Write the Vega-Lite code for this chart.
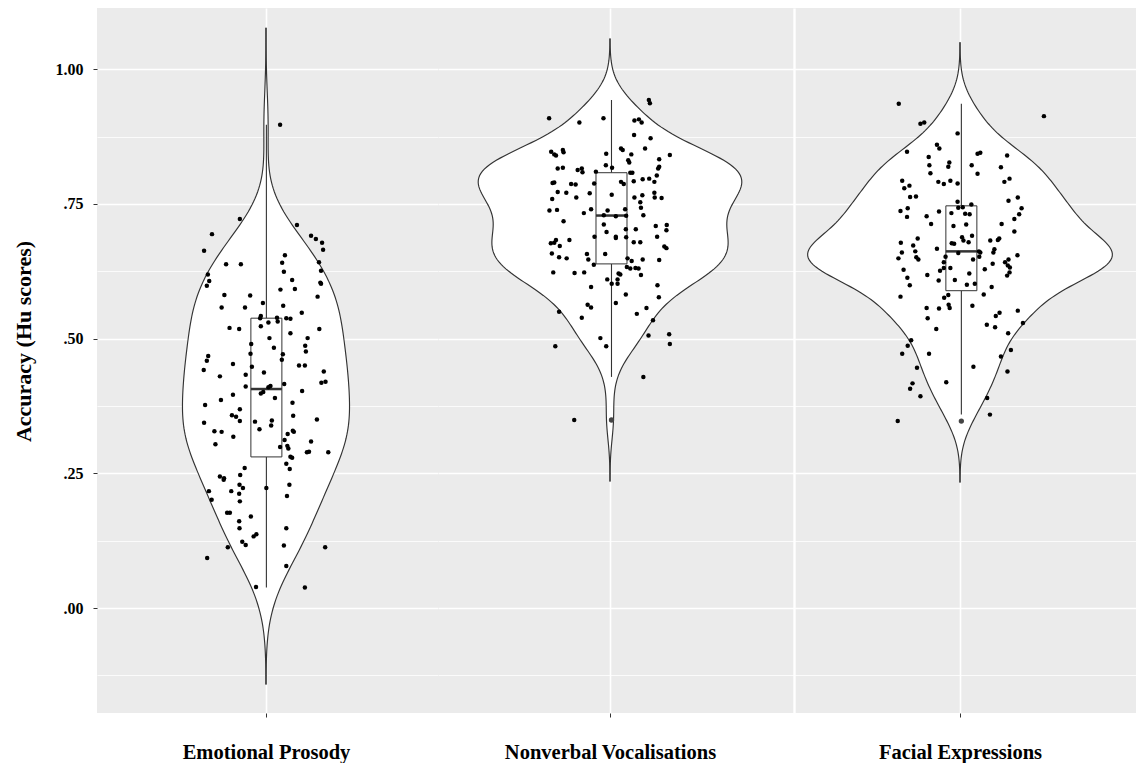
{
"$schema": "https://vega.github.io/schema/vega-lite/v6.json",
"padding": {"left": 12, "top": 8, "right": 0, "bottom": 0},
"background": "white",
"config": {"view": {"fill": "#EBEBEB", "stroke": null}, "font": "Liberation Serif", "axis": {"domain": false}},
"datasets": {
"emo": [
{"cat":"Emotional Prosody","value":0.607,"jitter":-0.165},{"cat":"Emotional Prosody","value":0.598,"jitter":-0.172},{"cat":"Emotional Prosody","value":0.581,"jitter":-0.121},{"cat":"Emotional Prosody","value":0.580,"jitter":-0.046},{"cat":"Emotional Prosody","value":0.591,"jitter":0.042},{"cat":"Emotional Prosody","value":0.592,"jitter":0.084},{"cat":"Emotional Prosody","value":0.604,"jitter":0.158},{"cat":"Emotional Prosody","value":0.602,"jitter":0.160},{"cat":"Emotional Prosody","value":0.578,"jitter":0.150},{"cat":"Emotional Prosody","value":0.558,"jitter":-0.129},
{"cat":"Emotional Prosody","value":0.558,"jitter":-0.061},{"cat":"Emotional Prosody","value":0.566,"jitter":-0.009},{"cat":"Emotional Prosody","value":0.561,"jitter":0.050},{"cat":"Emotional Prosody","value":0.548,"jitter":0.104},{"cat":"Emotional Prosody","value":0.542,"jitter":-0.015},{"cat":"Emotional Prosody","value":0.538,"jitter":-0.017},{"cat":"Emotional Prosody","value":0.539,"jitter":0.032},{"cat":"Emotional Prosody","value":0.532,"jitter":0.034},{"cat":"Emotional Prosody","value":0.530,"jitter":0.007},{"cat":"Emotional Prosody","value":0.538,"jitter":0.059},
{"cat":"Emotional Prosody","value":0.537,"jitter":0.071},{"cat":"Emotional Prosody","value":0.523,"jitter":-0.015},{"cat":"Emotional Prosody","value":0.520,"jitter":-0.106},{"cat":"Emotional Prosody","value":0.518,"jitter":-0.078},{"cat":"Emotional Prosody","value":0.518,"jitter":0.155},{"cat":"Emotional Prosody","value":0.510,"jitter":0.071},{"cat":"Emotional Prosody","value":0.501,"jitter":0.010},{"cat":"Emotional Prosody","value":0.501,"jitter":0.121},{"cat":"Emotional Prosody","value":0.487,"jitter":0.114},{"cat":"Emotional Prosody","value":0.476,"jitter":0.116},
{"cat":"Emotional Prosody","value":0.490,"jitter":-0.043},{"cat":"Emotional Prosody","value":0.483,"jitter":0.023},{"cat":"Emotional Prosody","value":0.472,"jitter":-0.045},{"cat":"Emotional Prosody","value":0.471,"jitter":0.049},{"cat":"Emotional Prosody","value":0.461,"jitter":0.046},{"cat":"Emotional Prosody","value":0.468,"jitter":-0.168},{"cat":"Emotional Prosody","value":0.459,"jitter":-0.172},{"cat":"Emotional Prosody","value":0.442,"jitter":-0.181},{"cat":"Emotional Prosody","value":0.453,"jitter":-0.096},{"cat":"Emotional Prosody","value":0.448,"jitter":-0.041},
{"cat":"Emotional Prosody","value":0.450,"jitter":0.096},{"cat":"Emotional Prosody","value":0.450,"jitter":0.113},{"cat":"Emotional Prosody","value":0.439,"jitter":0.168},{"cat":"Emotional Prosody","value":0.437,"jitter":-0.006},{"cat":"Emotional Prosody","value":0.433,"jitter":-0.059},{"cat":"Emotional Prosody","value":0.430,"jitter":-0.134},{"cat":"Emotional Prosody","value":0.418,"jitter":0.161},{"cat":"Emotional Prosody","value":0.420,"jitter":0.173},{"cat":"Emotional Prosody","value":0.411,"jitter":-0.059},{"cat":"Emotional Prosody","value":0.416,"jitter":0.053},
{"cat":"Emotional Prosody","value":0.412,"jitter":0.013},{"cat":"Emotional Prosody","value":0.410,"jitter":0.007},{"cat":"Emotional Prosody","value":0.401,"jitter":-0.008},{"cat":"Emotional Prosody","value":0.398,"jitter":-0.015},{"cat":"Emotional Prosody","value":0.403,"jitter":0.105},{"cat":"Emotional Prosody","value":0.396,"jitter":-0.096},{"cat":"Emotional Prosody","value":0.386,"jitter":-0.131},{"cat":"Emotional Prosody","value":0.390,"jitter":0.026},{"cat":"Emotional Prosody","value":0.377,"jitter":-0.177},{"cat":"Emotional Prosody","value":0.381,"jitter":0.077},
{"cat":"Emotional Prosody","value":0.369,"jitter":-0.076},{"cat":"Emotional Prosody","value":0.358,"jitter":-0.099},{"cat":"Emotional Prosody","value":0.355,"jitter":-0.087},{"cat":"Emotional Prosody","value":0.347,"jitter":-0.076},{"cat":"Emotional Prosody","value":0.357,"jitter":0.079},{"cat":"Emotional Prosody","value":0.350,"jitter":0.148},{"cat":"Emotional Prosody","value":0.346,"jitter":-0.032},{"cat":"Emotional Prosody","value":0.348,"jitter":0.017},{"cat":"Emotional Prosody","value":0.339,"jitter":0.015},{"cat":"Emotional Prosody","value":0.344,"jitter":-0.180},
{"cat":"Emotional Prosody","value":0.332,"jitter":-0.019},{"cat":"Emotional Prosody","value":0.328,"jitter":-0.150},{"cat":"Emotional Prosody","value":0.327,"jitter":-0.129},{"cat":"Emotional Prosody","value":0.318,"jitter":-0.095},{"cat":"Emotional Prosody","value":0.329,"jitter":0.078},{"cat":"Emotional Prosody","value":0.327,"jitter":0.081},{"cat":"Emotional Prosody","value":0.323,"jitter":0.063},{"cat":"Emotional Prosody","value":0.312,"jitter":0.054},{"cat":"Emotional Prosody","value":0.309,"jitter":0.131},{"cat":"Emotional Prosody","value":0.304,"jitter":-0.147},
{"cat":"Emotional Prosody","value":0.299,"jitter":0.041},{"cat":"Emotional Prosody","value":0.301,"jitter":0.062},{"cat":"Emotional Prosody","value":0.296,"jitter":0.065},{"cat":"Emotional Prosody","value":0.281,"jitter":0.071},{"cat":"Emotional Prosody","value":0.279,"jitter":0.076},{"cat":"Emotional Prosody","value":0.290,"jitter":0.125},{"cat":"Emotional Prosody","value":0.289,"jitter":0.119},{"cat":"Emotional Prosody","value":0.289,"jitter":0.181},{"cat":"Emotional Prosody","value":0.268,"jitter":0.059},{"cat":"Emotional Prosody","value":0.258,"jitter":0.069},
{"cat":"Emotional Prosody","value":0.260,"jitter":-0.062},{"cat":"Emotional Prosody","value":0.244,"jitter":-0.134},{"cat":"Emotional Prosody","value":0.241,"jitter":-0.122},{"cat":"Emotional Prosody","value":0.238,"jitter":-0.123},{"cat":"Emotional Prosody","value":0.247,"jitter":-0.075},{"cat":"Emotional Prosody","value":0.217,"jitter":-0.101},{"cat":"Emotional Prosody","value":0.217,"jitter":-0.166},{"cat":"Emotional Prosody","value":0.229,"jitter":-0.077},{"cat":"Emotional Prosody","value":0.223,"jitter":-0.067},{"cat":"Emotional Prosody","value":0.212,"jitter":-0.078},
{"cat":"Emotional Prosody","value":0.198,"jitter":-0.076},{"cat":"Emotional Prosody","value":0.201,"jitter":-0.158},{"cat":"Emotional Prosody","value":0.229,"jitter":0.068},{"cat":"Emotional Prosody","value":0.208,"jitter":0.061},{"cat":"Emotional Prosody","value":0.223,"jitter":0.001},{"cat":"Emotional Prosody","value":0.177,"jitter":-0.113},{"cat":"Emotional Prosody","value":0.177,"jitter":-0.105},{"cat":"Emotional Prosody","value":0.170,"jitter":-0.044},{"cat":"Emotional Prosody","value":0.161,"jitter":-0.078},{"cat":"Emotional Prosody","value":0.148,"jitter":-0.077},
{"cat":"Emotional Prosody","value":0.148,"jitter":0.059},{"cat":"Emotional Prosody","value":0.133,"jitter":-0.036},{"cat":"Emotional Prosody","value":0.137,"jitter":-0.028},{"cat":"Emotional Prosody","value":0.123,"jitter":-0.069},{"cat":"Emotional Prosody","value":0.117,"jitter":-0.059},{"cat":"Emotional Prosody","value":0.113,"jitter":-0.111},{"cat":"Emotional Prosody","value":0.116,"jitter":0.052},{"cat":"Emotional Prosody","value":0.093,"jitter":-0.171},{"cat":"Emotional Prosody","value":0.113,"jitter":0.172},{"cat":"Emotional Prosody","value":0.078,"jitter":0.059},
{"cat":"Emotional Prosody","value":0.039,"jitter":-0.029},{"cat":"Emotional Prosody","value":0.038,"jitter":0.113},
{"cat":"Emotional Prosody","value":0.722,"jitter":-0.076},{"cat":"Emotional Prosody","value":0.711,"jitter":0.090},{"cat":"Emotional Prosody","value":0.694,"jitter":-0.157},{"cat":"Emotional Prosody","value":0.663,"jitter":-0.180},{"cat":"Emotional Prosody","value":0.691,"jitter":0.131},{"cat":"Emotional Prosody","value":0.685,"jitter":0.145},{"cat":"Emotional Prosody","value":0.678,"jitter":0.163},{"cat":"Emotional Prosody","value":0.665,"jitter":0.166},{"cat":"Emotional Prosody","value":0.655,"jitter":0.055},{"cat":"Emotional Prosody","value":0.641,"jitter":0.047},
{"cat":"Emotional Prosody","value":0.638,"jitter":-0.073},{"cat":"Emotional Prosody","value":0.624,"jitter":0.052},{"cat":"Emotional Prosody","value":0.638,"jitter":-0.116},{"cat":"Emotional Prosody","value":0.609,"jitter":0.076},{"cat":"Emotional Prosody","value":0.642,"jitter":0.154},{"cat":"Emotional Prosody","value":0.626,"jitter":0.160},{"cat":"Emotional Prosody","value":0.897,"jitter":0.041},{"cat":"Emotional Prosody","value":0.619,"jitter":-0.169}
],
"voc": [
{"cat":"Nonverbal Vocalisations","value":0.901,"jitter":-0.089},{"cat":"Nonverbal Vocalisations","value":0.905,"jitter":0.071},{"cat":"Nonverbal Vocalisations","value":0.901,"jitter":0.092},{"cat":"Nonverbal Vocalisations","value":0.878,"jitter":0.070},{"cat":"Nonverbal Vocalisations","value":0.872,"jitter":0.118},{"cat":"Nonverbal Vocalisations","value":0.847,"jitter":-0.171},{"cat":"Nonverbal Vocalisations","value":0.842,"jitter":-0.162},{"cat":"Nonverbal Vocalisations","value":0.840,"jitter":-0.157},{"cat":"Nonverbal Vocalisations","value":0.850,"jitter":-0.137},{"cat":"Nonverbal Vocalisations","value":0.846,"jitter":-0.135},
{"cat":"Nonverbal Vocalisations","value":0.843,"jitter":-0.011},{"cat":"Nonverbal Vocalisations","value":0.853,"jitter":0.032},{"cat":"Nonverbal Vocalisations","value":0.850,"jitter":0.037},{"cat":"Nonverbal Vocalisations","value":0.842,"jitter":0.062},{"cat":"Nonverbal Vocalisations","value":0.853,"jitter":0.102},{"cat":"Nonverbal Vocalisations","value":0.841,"jitter":0.174},{"cat":"Nonverbal Vocalisations","value":0.831,"jitter":0.053},{"cat":"Nonverbal Vocalisations","value":0.827,"jitter":0.056},{"cat":"Nonverbal Vocalisations","value":0.833,"jitter":0.143},{"cat":"Nonverbal Vocalisations","value":0.822,"jitter":-0.012},
{"cat":"Nonverbal Vocalisations","value":0.817,"jitter":0.006},{"cat":"Nonverbal Vocalisations","value":0.816,"jitter":-0.152},{"cat":"Nonverbal Vocalisations","value":0.817,"jitter":-0.137},{"cat":"Nonverbal Vocalisations","value":0.813,"jitter":-0.094},{"cat":"Nonverbal Vocalisations","value":0.816,"jitter":-0.082},{"cat":"Nonverbal Vocalisations","value":0.809,"jitter":-0.080},{"cat":"Nonverbal Vocalisations","value":0.810,"jitter":-0.041},{"cat":"Nonverbal Vocalisations","value":0.808,"jitter":0.059},{"cat":"Nonverbal Vocalisations","value":0.808,"jitter":0.065},{"cat":"Nonverbal Vocalisations","value":0.819,"jitter":0.143},
{"cat":"Nonverbal Vocalisations","value":0.816,"jitter":0.140},{"cat":"Nonverbal Vocalisations","value":0.803,"jitter":0.136},{"cat":"Nonverbal Vocalisations","value":0.797,"jitter":0.114},{"cat":"Nonverbal Vocalisations","value":0.791,"jitter":0.129},{"cat":"Nonverbal Vocalisations","value":0.796,"jitter":0.095},{"cat":"Nonverbal Vocalisations","value":0.792,"jitter":0.069},{"cat":"Nonverbal Vocalisations","value":0.790,"jitter":-0.162},{"cat":"Nonverbal Vocalisations","value":0.789,"jitter":-0.167},{"cat":"Nonverbal Vocalisations","value":0.787,"jitter":-0.113},{"cat":"Nonverbal Vocalisations","value":0.786,"jitter":-0.100},
{"cat":"Nonverbal Vocalisations","value":0.788,"jitter":-0.046},{"cat":"Nonverbal Vocalisations","value":0.791,"jitter":0.032},{"cat":"Nonverbal Vocalisations","value":0.787,"jitter":0.040},{"cat":"Nonverbal Vocalisations","value":0.772,"jitter":-0.152},{"cat":"Nonverbal Vocalisations","value":0.771,"jitter":-0.127},{"cat":"Nonverbal Vocalisations","value":0.770,"jitter":-0.059},{"cat":"Nonverbal Vocalisations","value":0.762,"jitter":-0.098},{"cat":"Nonverbal Vocalisations","value":0.767,"jitter":0.005},{"cat":"Nonverbal Vocalisations","value":0.759,"jitter":-0.168},{"cat":"Nonverbal Vocalisations","value":0.762,"jitter":0.071},
{"cat":"Nonverbal Vocalisations","value":0.766,"jitter":0.094},{"cat":"Nonverbal Vocalisations","value":0.771,"jitter":0.129},{"cat":"Nonverbal Vocalisations","value":0.762,"jitter":0.130},{"cat":"Nonverbal Vocalisations","value":0.761,"jitter":0.150},{"cat":"Nonverbal Vocalisations","value":0.753,"jitter":0.088},{"cat":"Nonverbal Vocalisations","value":0.743,"jitter":0.090},{"cat":"Nonverbal Vocalisations","value":0.738,"jitter":-0.176},{"cat":"Nonverbal Vocalisations","value":0.739,"jitter":-0.154},{"cat":"Nonverbal Vocalisations","value":0.733,"jitter":-0.076},{"cat":"Nonverbal Vocalisations","value":0.740,"jitter":-0.055},
{"cat":"Nonverbal Vocalisations","value":0.738,"jitter":-0.007},{"cat":"Nonverbal Vocalisations","value":0.740,"jitter":0.044},{"cat":"Nonverbal Vocalisations","value":0.729,"jitter":0.097},{"cat":"Nonverbal Vocalisations","value":0.718,"jitter":-0.135},{"cat":"Nonverbal Vocalisations","value":0.729,"jitter":-0.018},{"cat":"Nonverbal Vocalisations","value":0.727,"jitter":0.017},{"cat":"Nonverbal Vocalisations","value":0.728,"jitter":0.047},{"cat":"Nonverbal Vocalisations","value":0.712,"jitter":-0.018},{"cat":"Nonverbal Vocalisations","value":0.698,"jitter":-0.010},{"cat":"Nonverbal Vocalisations","value":0.703,"jitter":0.046},
{"cat":"Nonverbal Vocalisations","value":0.703,"jitter":0.075},{"cat":"Nonverbal Vocalisations","value":0.709,"jitter":0.133},{"cat":"Nonverbal Vocalisations","value":0.711,"jitter":0.165},{"cat":"Nonverbal Vocalisations","value":0.701,"jitter":0.164},{"cat":"Nonverbal Vocalisations","value":0.689,"jitter":0.137},{"cat":"Nonverbal Vocalisations","value":0.689,"jitter":-0.045},{"cat":"Nonverbal Vocalisations","value":0.689,"jitter":0.017},{"cat":"Nonverbal Vocalisations","value":0.687,"jitter":0.017},{"cat":"Nonverbal Vocalisations","value":0.688,"jitter":0.047},{"cat":"Nonverbal Vocalisations","value":0.679,"jitter":0.069},
{"cat":"Nonverbal Vocalisations","value":0.679,"jitter":0.088},{"cat":"Nonverbal Vocalisations","value":0.683,"jitter":-0.118},{"cat":"Nonverbal Vocalisations","value":0.677,"jitter":-0.172},{"cat":"Nonverbal Vocalisations","value":0.678,"jitter":-0.162},{"cat":"Nonverbal Vocalisations","value":0.683,"jitter":-0.157},{"cat":"Nonverbal Vocalisations","value":0.672,"jitter":-0.146},{"cat":"Nonverbal Vocalisations","value":0.671,"jitter":0.158},{"cat":"Nonverbal Vocalisations","value":0.668,"jitter":0.164},{"cat":"Nonverbal Vocalisations","value":0.658,"jitter":-0.169},{"cat":"Nonverbal Vocalisations","value":0.651,"jitter":-0.148},
{"cat":"Nonverbal Vocalisations","value":0.649,"jitter":-0.126},{"cat":"Nonverbal Vocalisations","value":0.657,"jitter":-0.067},{"cat":"Nonverbal Vocalisations","value":0.647,"jitter":-0.063},{"cat":"Nonverbal Vocalisations","value":0.657,"jitter":-0.014},{"cat":"Nonverbal Vocalisations","value":0.637,"jitter":-0.047},{"cat":"Nonverbal Vocalisations","value":0.649,"jitter":0.051},{"cat":"Nonverbal Vocalisations","value":0.644,"jitter":0.063},{"cat":"Nonverbal Vocalisations","value":0.647,"jitter":0.095},{"cat":"Nonverbal Vocalisations","value":0.646,"jitter":0.143},{"cat":"Nonverbal Vocalisations","value":0.623,"jitter":-0.165},
{"cat":"Nonverbal Vocalisations","value":0.622,"jitter":-0.103},{"cat":"Nonverbal Vocalisations","value":0.623,"jitter":-0.075},{"cat":"Nonverbal Vocalisations","value":0.633,"jitter":0.049},{"cat":"Nonverbal Vocalisations","value":0.630,"jitter":0.059},{"cat":"Nonverbal Vocalisations","value":0.631,"jitter":0.074},{"cat":"Nonverbal Vocalisations","value":0.630,"jitter":0.083},{"cat":"Nonverbal Vocalisations","value":0.618,"jitter":0.090},{"cat":"Nonverbal Vocalisations","value":0.621,"jitter":0.025},{"cat":"Nonverbal Vocalisations","value":0.619,"jitter":0.030},{"cat":"Nonverbal Vocalisations","value":0.610,"jitter":-0.008},
{"cat":"Nonverbal Vocalisations","value":0.602,"jitter":0.005},{"cat":"Nonverbal Vocalisations","value":0.602,"jitter":0.022},{"cat":"Nonverbal Vocalisations","value":0.610,"jitter":0.022},{"cat":"Nonverbal Vocalisations","value":0.596,"jitter":-0.055},{"cat":"Nonverbal Vocalisations","value":0.599,"jitter":0.138},{"cat":"Nonverbal Vocalisations","value":0.577,"jitter":0.142},{"cat":"Nonverbal Vocalisations","value":0.582,"jitter":0.046},{"cat":"Nonverbal Vocalisations","value":0.563,"jitter":-0.065},{"cat":"Nonverbal Vocalisations","value":0.558,"jitter":-0.055},{"cat":"Nonverbal Vocalisations","value":0.566,"jitter":0.017},
{"cat":"Nonverbal Vocalisations","value":0.557,"jitter":0.106},{"cat":"Nonverbal Vocalisations","value":0.546,"jitter":0.078},{"cat":"Nonverbal Vocalisations","value":0.550,"jitter":-0.148},{"cat":"Nonverbal Vocalisations","value":0.539,"jitter":-0.082},{"cat":"Nonverbal Vocalisations","value":0.534,"jitter":0.125},{"cat":"Nonverbal Vocalisations","value":0.501,"jitter":-0.028},{"cat":"Nonverbal Vocalisations","value":0.486,"jitter":-0.011},{"cat":"Nonverbal Vocalisations","value":0.486,"jitter":-0.159},{"cat":"Nonverbal Vocalisations","value":0.506,"jitter":0.112},{"cat":"Nonverbal Vocalisations","value":0.508,"jitter":0.172},
{"cat":"Nonverbal Vocalisations","value":0.490,"jitter":0.174},{"cat":"Nonverbal Vocalisations","value":0.429,"jitter":0.097},{"cat":"Nonverbal Vocalisations","value":0.349,"jitter":-0.104},
{"cat":"Nonverbal Vocalisations","value":0.909,"jitter":-0.019},{"cat":"Nonverbal Vocalisations","value":0.907,"jitter":0.084},{"cat":"Nonverbal Vocalisations","value":0.943,"jitter":0.113},{"cat":"Nonverbal Vocalisations","value":0.937,"jitter":0.116},{"cat":"Nonverbal Vocalisations","value":0.909,"jitter":-0.177}
],
"fac": [
{"cat":"Facial Expressions","value":0.899,"jitter":-0.115},{"cat":"Facial Expressions","value":0.901,"jitter":-0.104},{"cat":"Facial Expressions","value":0.881,"jitter":-0.007},{"cat":"Facial Expressions","value":0.847,"jitter":-0.154},{"cat":"Facial Expressions","value":0.860,"jitter":-0.067},{"cat":"Facial Expressions","value":0.853,"jitter":-0.060},{"cat":"Facial Expressions","value":0.837,"jitter":-0.091},{"cat":"Facial Expressions","value":0.822,"jitter":-0.089},{"cat":"Facial Expressions","value":0.807,"jitter":-0.086},{"cat":"Facial Expressions","value":0.827,"jitter":-0.031},
{"cat":"Facial Expressions","value":0.819,"jitter":-0.034},{"cat":"Facial Expressions","value":0.791,"jitter":-0.063},{"cat":"Facial Expressions","value":0.787,"jitter":-0.047},{"cat":"Facial Expressions","value":0.793,"jitter":-0.028},{"cat":"Facial Expressions","value":0.788,"jitter":-0.007},{"cat":"Facial Expressions","value":0.843,"jitter":0.051},{"cat":"Facial Expressions","value":0.845,"jitter":0.059},{"cat":"Facial Expressions","value":0.822,"jitter":0.034},{"cat":"Facial Expressions","value":0.806,"jitter":0.051},{"cat":"Facial Expressions","value":0.840,"jitter":0.137},
{"cat":"Facial Expressions","value":0.818,"jitter":0.119},{"cat":"Facial Expressions","value":0.791,"jitter":0.129},{"cat":"Facial Expressions","value":0.797,"jitter":0.144},{"cat":"Facial Expressions","value":0.793,"jitter":-0.168},{"cat":"Facial Expressions","value":0.779,"jitter":-0.162},{"cat":"Facial Expressions","value":0.784,"jitter":-0.147},{"cat":"Facial Expressions","value":0.763,"jitter":-0.145},{"cat":"Facial Expressions","value":0.764,"jitter":-0.128},{"cat":"Facial Expressions","value":0.742,"jitter":-0.152},{"cat":"Facial Expressions","value":0.737,"jitter":-0.173},
{"cat":"Facial Expressions","value":0.726,"jitter":-0.154},{"cat":"Facial Expressions","value":0.727,"jitter":-0.097},{"cat":"Facial Expressions","value":0.713,"jitter":-0.084},{"cat":"Facial Expressions","value":0.736,"jitter":-0.061},{"cat":"Facial Expressions","value":0.754,"jitter":-0.007},{"cat":"Facial Expressions","value":0.743,"jitter":-0.005},{"cat":"Facial Expressions","value":0.744,"jitter":0.008},{"cat":"Facial Expressions","value":0.732,"jitter":0.015},{"cat":"Facial Expressions","value":0.731,"jitter":0.028},{"cat":"Facial Expressions","value":0.749,"jitter":0.033},
{"cat":"Facial Expressions","value":0.733,"jitter":-0.025},{"cat":"Facial Expressions","value":0.709,"jitter":-0.019},{"cat":"Facial Expressions","value":0.712,"jitter":0.018},{"cat":"Facial Expressions","value":0.756,"jitter":0.141},{"cat":"Facial Expressions","value":0.762,"jitter":0.168},{"cat":"Facial Expressions","value":0.742,"jitter":0.179},{"cat":"Facial Expressions","value":0.731,"jitter":0.172},{"cat":"Facial Expressions","value":0.722,"jitter":0.158},{"cat":"Facial Expressions","value":0.713,"jitter":0.121},{"cat":"Facial Expressions","value":0.699,"jitter":0.158},
{"cat":"Facial Expressions","value":0.678,"jitter":-0.172},{"cat":"Facial Expressions","value":0.673,"jitter":-0.136},{"cat":"Facial Expressions","value":0.686,"jitter":-0.123},{"cat":"Facial Expressions","value":0.660,"jitter":-0.169},{"cat":"Facial Expressions","value":0.662,"jitter":-0.130},{"cat":"Facial Expressions","value":0.649,"jitter":-0.179},{"cat":"Facial Expressions","value":0.647,"jitter":-0.121},{"cat":"Facial Expressions","value":0.651,"jitter":-0.127},{"cat":"Facial Expressions","value":0.667,"jitter":-0.067},{"cat":"Facial Expressions","value":0.677,"jitter":-0.024},
{"cat":"Facial Expressions","value":0.676,"jitter":-0.017},{"cat":"Facial Expressions","value":0.688,"jitter":0.006},{"cat":"Facial Expressions","value":0.682,"jitter":0.010},{"cat":"Facial Expressions","value":0.679,"jitter":0.025},{"cat":"Facial Expressions","value":0.691,"jitter":0.035},{"cat":"Facial Expressions","value":0.659,"jitter":-0.005},{"cat":"Facial Expressions","value":0.662,"jitter":0.055},{"cat":"Facial Expressions","value":0.660,"jitter":0.059},{"cat":"Facial Expressions","value":0.652,"jitter":0.056},{"cat":"Facial Expressions","value":0.647,"jitter":0.038},
{"cat":"Facial Expressions","value":0.682,"jitter":0.088},{"cat":"Facial Expressions","value":0.683,"jitter":0.110},{"cat":"Facial Expressions","value":0.686,"jitter":0.114},{"cat":"Facial Expressions","value":0.666,"jitter":0.100},{"cat":"Facial Expressions","value":0.660,"jitter":0.097},{"cat":"Facial Expressions","value":0.639,"jitter":0.095},{"cat":"Facial Expressions","value":0.642,"jitter":0.131},{"cat":"Facial Expressions","value":0.636,"jitter":0.139},{"cat":"Facial Expressions","value":0.632,"jitter":0.145},{"cat":"Facial Expressions","value":0.647,"jitter":0.141},
{"cat":"Facial Expressions","value":0.623,"jitter":0.144},{"cat":"Facial Expressions","value":0.617,"jitter":0.137},{"cat":"Facial Expressions","value":0.655,"jitter":0.167},{"cat":"Facial Expressions","value":0.629,"jitter":0.072},{"cat":"Facial Expressions","value":0.628,"jitter":-0.164},{"cat":"Facial Expressions","value":0.613,"jitter":-0.153},{"cat":"Facial Expressions","value":0.599,"jitter":-0.146},{"cat":"Facial Expressions","value":0.618,"jitter":-0.095},{"cat":"Facial Expressions","value":0.608,"jitter":-0.062},{"cat":"Facial Expressions","value":0.626,"jitter":-0.058},
{"cat":"Facial Expressions","value":0.631,"jitter":-0.047},{"cat":"Facial Expressions","value":0.642,"jitter":-0.047},{"cat":"Facial Expressions","value":0.652,"jitter":-0.042},{"cat":"Facial Expressions","value":0.631,"jitter":-0.028},{"cat":"Facial Expressions","value":0.621,"jitter":0.027},{"cat":"Facial Expressions","value":0.609,"jitter":-0.015},{"cat":"Facial Expressions","value":0.600,"jitter":0.020},{"cat":"Facial Expressions","value":0.602,"jitter":0.043},{"cat":"Facial Expressions","value":0.578,"jitter":-0.173},{"cat":"Facial Expressions","value":0.576,"jitter":-0.046},
{"cat":"Facial Expressions","value":0.581,"jitter":-0.034},{"cat":"Facial Expressions","value":0.563,"jitter":-0.033},{"cat":"Facial Expressions","value":0.557,"jitter":-0.030},{"cat":"Facial Expressions","value":0.561,"jitter":0.036},{"cat":"Facial Expressions","value":0.582,"jitter":0.069},{"cat":"Facial Expressions","value":0.596,"jitter":0.092},{"cat":"Facial Expressions","value":0.557,"jitter":-0.097},{"cat":"Facial Expressions","value":0.556,"jitter":-0.061},{"cat":"Facial Expressions","value":0.538,"jitter":-0.094},{"cat":"Facial Expressions","value":0.518,"jitter":-0.069},
{"cat":"Facial Expressions","value":0.526,"jitter":0.078},{"cat":"Facial Expressions","value":0.521,"jitter":0.102},{"cat":"Facial Expressions","value":0.542,"jitter":0.104},{"cat":"Facial Expressions","value":0.548,"jitter":0.115},{"cat":"Facial Expressions","value":0.552,"jitter":0.168},{"cat":"Facial Expressions","value":0.529,"jitter":0.183},{"cat":"Facial Expressions","value":0.510,"jitter":0.140},{"cat":"Facial Expressions","value":0.497,"jitter":-0.142},{"cat":"Facial Expressions","value":0.487,"jitter":-0.152},{"cat":"Facial Expressions","value":0.472,"jitter":-0.168},
{"cat":"Facial Expressions","value":0.472,"jitter":-0.090},{"cat":"Facial Expressions","value":0.446,"jitter":-0.125},{"cat":"Facial Expressions","value":0.419,"jitter":-0.040},{"cat":"Facial Expressions","value":0.448,"jitter":0.039},{"cat":"Facial Expressions","value":0.467,"jitter":0.119},{"cat":"Facial Expressions","value":0.479,"jitter":0.148},{"cat":"Facial Expressions","value":0.439,"jitter":0.138},{"cat":"Facial Expressions","value":0.417,"jitter":-0.138},{"cat":"Facial Expressions","value":0.407,"jitter":-0.145},{"cat":"Facial Expressions","value":0.393,"jitter":-0.115},
{"cat":"Facial Expressions","value":0.390,"jitter":0.079},{"cat":"Facial Expressions","value":0.359,"jitter":0.087},{"cat":"Facial Expressions","value":0.347,"jitter":-0.181},{"cat":"Facial Expressions","value":0.936,"jitter":-0.178},{"cat":"Facial Expressions","value":0.913,"jitter":0.244}
]
},
"spacing": 0,
"bounds": "flush",
"hconcat": [
{
"data": {"name": "emo"},
"width": 341, "height": 705,
"encoding": {"y": {"field": "value", "type": "quantitative", "title": null,
  "scale": {"domain": [-0.1948, 1.1137], "nice": false, "zero": false},
  "axis": {"values": [-0.125,0,0.125,0.25,0.375,0.5,0.625,0.75,0.875,1],
    "labelExpr": "(datum.value*8) % 2 === 0 ? (datum.value === 1 ? '1.00' : substring(format(datum.value, '.2f'), 1)) : ''",
    "labelFont": "Liberation Serif", "labelFontWeight": "bold", "labelFontSize": 16, "labelColor": "black", "labelPadding": 10,
    "tickColor": "#333333", "tickSize": 4, "tickWidth": 1,
    "tickOpacity": {"condition": {"test": "(datum.value*8) % 2 !== 0", "value": 0}, "value": 1},
    "grid": true, "gridColor": "white",
    "gridWidth": {"condition": {"test": "(datum.value*8) % 2 !== 0", "value": 0.8}, "value": 1.6},
    "title": "Accuracy (Hu scores)", "titleFont": "Liberation Serif", "titleFontWeight": "bold", "titleFontSize": 22, "titleColor": "black",
    "titleX": -73.5, "titleY": 333, "titleBaseline": "middle", "titleAngle": 270, "titleAlign": "center"}}},
"layer": [
{"transform": [{"density": "value", "bandwidth": 0.06, "extent": [-0.142, 1.077], "steps": 200}],
 "mark": {"type": "area", "orient": "horizontal", "fill": "white", "strokeWidth": 0},
 "encoding": {"x": {"field": "density", "type": "quantitative", "stack": null, "scale": {"domain": [-3.881, 3.95], "nice": false, "zero": false}, "axis": null}}},
{"transform": [{"density": "value", "bandwidth": 0.06, "extent": [-0.142, 1.077], "steps": 200}],
 "mark": {"type": "area", "orient": "horizontal", "fill": "white", "strokeWidth": 0},
 "encoding": {"x": {"field": "density", "type": "quantitative", "stack": null, "scale": {"domain": [-3.95, 3.881], "reverse": true, "nice": false, "zero": false}, "axis": null}}},
{"transform": [{"density": "value", "bandwidth": 0.06, "extent": [-0.142, 1.077], "steps": 200}],
 "mark": {"type": "line", "stroke": "#333333", "strokeWidth": 1.15},
 "encoding": {"x": {"field": "density", "type": "quantitative", "scale": {"domain": [-3.881, 3.95], "nice": false, "zero": false}, "axis": null}, "order": {"field": "value", "type": "quantitative"}}},
{"transform": [{"density": "value", "bandwidth": 0.06, "extent": [-0.142, 1.077], "steps": 200}],
 "mark": {"type": "line", "stroke": "#333333", "strokeWidth": 1.15},
 "encoding": {"x": {"field": "density", "type": "quantitative", "scale": {"domain": [-3.95, 3.881], "reverse": true, "nice": false, "zero": false}, "axis": null}, "order": {"field": "value", "type": "quantitative"}}},
{"mark": {"type": "boxplot", "extent": 1.5, "size": 31, "ticks": false,
   "box": {"fill": "white", "stroke": "#333333", "strokeWidth": 1},
   "median": {"color": "#333333", "thickness": 2.5, "opacity": 1},
   "rule": {"color": "#333333", "strokeWidth": 1.1},
   "outliers": {"color": "#444444", "size": 28, "filled": true, "opacity": 1}},
 "encoding": {"x": {"field": "cat", "type": "nominal", "axis": null, "scale": {"paddingInner": 0, "paddingOuter": 4, "align": 0.4951}}}},
{"mark": {"type": "point", "filled": true, "color": "black", "size": 20, "opacity": 1},
 "encoding": {"x": {"field": "jitter", "type": "quantitative", "scale": {"domain": [-0.49128, 0.5], "nice": false, "zero": false},
   "axis": {"values": [0], "orient": "bottom", "labels": false, "ticks": true, "tickSize": 4, "tickColor": "#333333", "tickWidth": 1, "domain": false,
     "grid": true, "gridColor": "white", "gridWidth": 1.6, "zindex": 0,
     "title": "Emotional Prosody", "titleFont": "Liberation Serif", "titleFontWeight": "bold", "titleFontSize": 20.5, "titleColor": "black",
     "titleX": 169, "titleY": 39, "titleBaseline": "middle", "titleAlign": "center"}}}}
],
"resolve": {"scale": {"x": "independent"}, "axis": {"x": "independent"}}
},
{
"data": {"name": "voc"},
"width": 356, "height": 705,
"encoding": {"y": {"field": "value", "type": "quantitative", "title": null,
  "scale": {"domain": [-0.1948, 1.1137], "nice": false, "zero": false},
  "axis": {"values": [-0.125,0,0.125,0.25,0.375,0.5,0.625,0.75,0.875,1], "labels": false, "ticks": false,
    "grid": true, "gridColor": "white",
    "gridWidth": {"condition": {"test": "(datum.value*8) % 2 !== 0", "value": 0.8}, "value": 1.6}, "title": null}}},
"layer": [
{"transform": [{"density": "value", "bandwidth": 0.038, "extent": [0.235, 1.057], "steps": 200}],
 "mark": {"type": "area", "orient": "horizontal", "fill": "white", "strokeWidth": 0},
 "encoding": {"x": {"field": "density", "type": "quantitative", "stack": null, "scale": {"domain": [-4.15, 4.4395], "nice": false, "zero": false}, "axis": null}}},
{"transform": [{"density": "value", "bandwidth": 0.038, "extent": [0.235, 1.057], "steps": 200}],
 "mark": {"type": "area", "orient": "horizontal", "fill": "white", "strokeWidth": 0},
 "encoding": {"x": {"field": "density", "type": "quantitative", "stack": null, "scale": {"domain": [-4.4395, 4.15], "reverse": true, "nice": false, "zero": false}, "axis": null}}},
{"transform": [{"density": "value", "bandwidth": 0.038, "extent": [0.235, 1.057], "steps": 200}],
 "mark": {"type": "line", "stroke": "#333333", "strokeWidth": 1.15},
 "encoding": {"x": {"field": "density", "type": "quantitative", "scale": {"domain": [-4.15, 4.4395], "nice": false, "zero": false}, "axis": null}, "order": {"field": "value", "type": "quantitative"}}},
{"transform": [{"density": "value", "bandwidth": 0.038, "extent": [0.235, 1.057], "steps": 200}],
 "mark": {"type": "line", "stroke": "#333333", "strokeWidth": 1.15},
 "encoding": {"x": {"field": "density", "type": "quantitative", "scale": {"domain": [-4.4395, 4.15], "reverse": true, "nice": false, "zero": false}, "axis": null}, "order": {"field": "value", "type": "quantitative"}}},
{"mark": {"type": "boxplot", "extent": 1.5, "size": 31, "ticks": false,
   "box": {"fill": "white", "stroke": "#333333", "strokeWidth": 1},
   "median": {"color": "#333333", "thickness": 2.5, "opacity": 1},
   "rule": {"color": "#333333", "strokeWidth": 1.1},
   "outliers": {"color": "#444444", "size": 28, "filled": true, "opacity": 1}},
 "encoding": {"x": {"field": "cat", "type": "nominal", "axis": null, "scale": {"paddingInner": 0, "paddingOuter": 4, "align": 0.4810}}}},
{"mark": {"type": "point", "filled": true, "color": "black", "size": 20, "opacity": 1},
 "encoding": {"x": {"field": "jitter", "type": "quantitative", "scale": {"domain": [-0.5, 0.53488], "nice": false, "zero": false},
   "axis": {"values": [0], "orient": "bottom", "labels": false, "ticks": true, "tickSize": 4, "tickColor": "#333333", "tickWidth": 1, "domain": false,
     "grid": true, "gridColor": "white", "gridWidth": 1.6, "zindex": 0,
     "title": "Nonverbal Vocalisations", "titleFont": "Liberation Serif", "titleFontWeight": "bold", "titleFontSize": 20.5, "titleColor": "black",
     "titleX": 172, "titleY": 39, "titleBaseline": "middle", "titleAlign": "center"}}}}
],
"resolve": {"scale": {"x": "independent"}, "axis": {"x": "independent"}}
},
{
"data": {"name": "fac"},
"width": 343, "height": 705,
"encoding": {"y": {"field": "value", "type": "quantitative", "title": null,
  "scale": {"domain": [-0.1948, 1.1137], "nice": false, "zero": false},
  "axis": {"values": [-0.125,0,0.125,0.25,0.375,0.5,0.625,0.75,0.875,1], "labels": false, "ticks": false,
    "grid": true, "gridColor": "white",
    "gridWidth": {"condition": {"test": "(datum.value*8) % 2 !== 0", "value": 0.8}, "value": 1.6}, "title": null}}},
"layer": [
{"transform": [{"density": "value", "bandwidth": 0.038, "extent": [0.233, 1.05], "steps": 200}],
 "mark": {"type": "area", "orient": "horizontal", "fill": "white", "strokeWidth": 0},
 "encoding": {"x": {"field": "density", "type": "quantitative", "stack": null, "scale": {"domain": [-3.6771, 3.9207], "nice": false, "zero": false}, "axis": null}}},
{"transform": [{"density": "value", "bandwidth": 0.038, "extent": [0.233, 1.05], "steps": 200}],
 "mark": {"type": "area", "orient": "horizontal", "fill": "white", "strokeWidth": 0},
 "encoding": {"x": {"field": "density", "type": "quantitative", "stack": null, "scale": {"domain": [-3.9207, 3.6771], "reverse": true, "nice": false, "zero": false}, "axis": null}}},
{"transform": [{"density": "value", "bandwidth": 0.038, "extent": [0.233, 1.05], "steps": 200}],
 "mark": {"type": "line", "stroke": "#333333", "strokeWidth": 1.15},
 "encoding": {"x": {"field": "density", "type": "quantitative", "scale": {"domain": [-3.6771, 3.9207], "nice": false, "zero": false}, "axis": null}, "order": {"field": "value", "type": "quantitative"}}},
{"transform": [{"density": "value", "bandwidth": 0.038, "extent": [0.233, 1.05], "steps": 200}],
 "mark": {"type": "line", "stroke": "#333333", "strokeWidth": 1.15},
 "encoding": {"x": {"field": "density", "type": "quantitative", "scale": {"domain": [-3.9207, 3.6771], "reverse": true, "nice": false, "zero": false}, "axis": null}, "order": {"field": "value", "type": "quantitative"}}},
{"mark": {"type": "boxplot", "extent": 1.5, "size": 31, "ticks": false,
   "box": {"fill": "white", "stroke": "#333333", "strokeWidth": 1},
   "median": {"color": "#333333", "thickness": 2.5, "opacity": 1},
   "rule": {"color": "#333333", "strokeWidth": 1.1},
   "outliers": {"color": "#444444", "size": 28, "filled": true, "opacity": 1}},
 "encoding": {"x": {"field": "cat", "type": "nominal", "axis": null, "scale": {"paddingInner": 0, "paddingOuter": 4, "align": 0.4819}}}},
{"mark": {"type": "point", "filled": true, "color": "black", "size": 20, "opacity": 1},
 "encoding": {"x": {"field": "jitter", "type": "quantitative", "scale": {"domain": [-0.48256, 0.51453], "nice": false, "zero": false},
   "axis": {"values": [-0.48256, 0], "orient": "bottom", "labels": false, "ticks": true, "tickSize": 4, "tickColor": "#333333", "tickWidth": 1,
     "tickOpacity": {"condition": {"test": "datum.value < -0.1", "value": 0}, "value": 1}, "domain": false,
     "grid": true, "gridColor": "white",
     "gridWidth": {"condition": {"test": "datum.value < -0.1", "value": 2.4}, "value": 1.6}, "zindex": 0,
     "title": "Facial Expressions", "titleFont": "Liberation Serif", "titleFontWeight": "bold", "titleFontSize": 20.5, "titleColor": "black",
     "titleX": 166, "titleY": 39, "titleBaseline": "middle", "titleAlign": "center"}}}}
],
"resolve": {"scale": {"x": "independent"}, "axis": {"x": "independent"}}
}
]
}
